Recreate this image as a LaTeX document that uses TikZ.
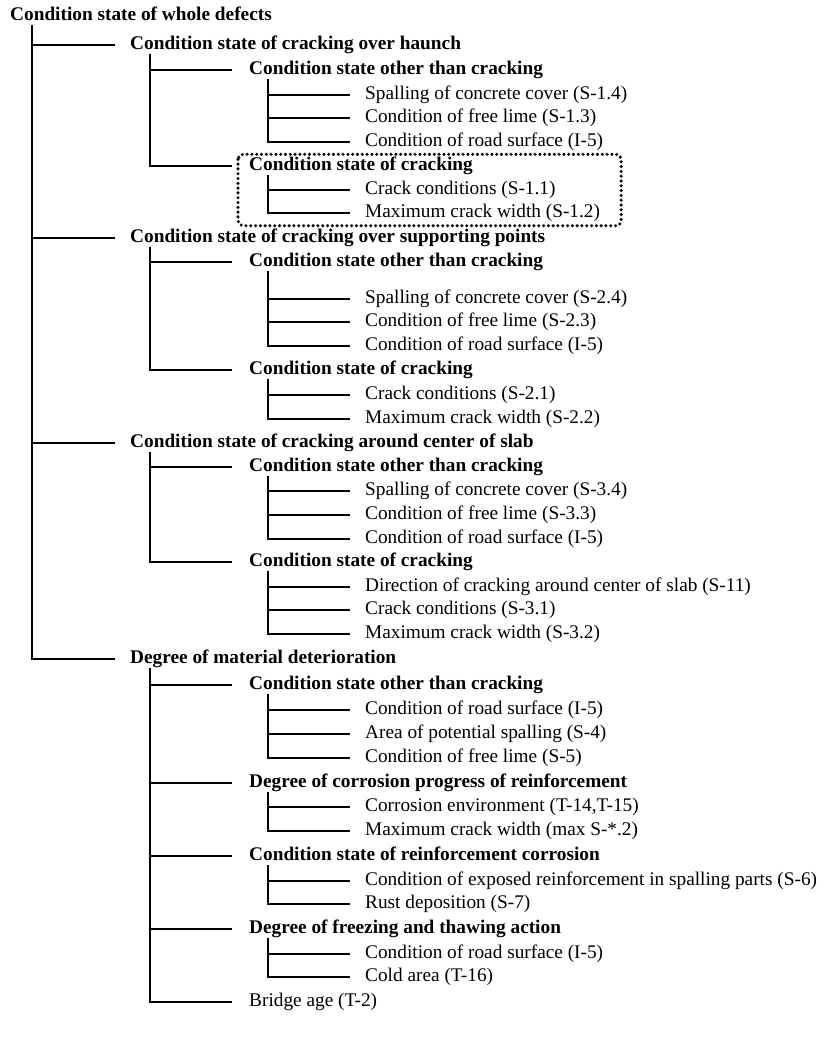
\documentclass[tikz,border=0pt]{standalone}
\usepackage{fontspec}
\setmainfont{Liberation Serif}
\usetikzlibrary{calc}
\tikzstyle{itm} = [anchor=west, inner sep=0pt, text height=13pt, text depth=4pt, font=\fontsize{19.3}{22}\selectfont]
\tikzstyle{grp} = [itm, font=\fontsize{19.3}{22}\selectfont\bfseries]
\tikzstyle{tree} = [line width=1.2pt]
\tikzstyle{focus} = [line width=3.4pt, line cap=round, dash pattern=on 0pt off 4.8pt, rounded corners=5pt]

\begin{document}
\begin{tikzpicture}[x=1pt, y=-1pt]
        \useasboundingbox (0,0) rectangle (831,1058);

        \node (W) [grp] at (10,16) {Condition state of whole defects};

        \node (H) [grp] at (130,45) {Condition state of cracking over haunch};
        \node (H1) [grp] at (249,70) {Condition state other than cracking};
        \node (H11) [itm] at (365,95) {Spalling of concrete cover (S-1.4)};
        \node (H12) [itm] at (365,118) {Condition of free lime (S-1.3)};
        \node (H13) [itm] at (365,142) {Condition of road surface (I-5)};
        \node (H2) [grp] at (249,166) {Condition state of cracking};
        \node (H21) [itm] at (365,190) {Crack conditions (S-1.1)};
        \node (H22) [itm] at (365,213) {Maximum crack width (S-1.2)};

        \node (P) [grp] at (130,238) {Condition state of cracking over supporting points};
        \node (P1) [grp] at (249,262) {Condition state other than cracking};
        \node (P11) [itm] at (365,299) {Spalling of concrete cover (S-2.4)};
        \node (P12) [itm] at (365,322) {Condition of free lime (S-2.3)};
        \node (P13) [itm] at (365,346) {Condition of road surface (I-5)};
        \node (P2) [grp] at (249,370) {Condition state of cracking};
        \node (P21) [itm] at (365,395) {Crack conditions (S-2.1)};
        \node (P22) [itm] at (365,419) {Maximum crack width (S-2.2)};

        \node (C) [grp] at (130,443) {Condition state of cracking around center of slab};
        \node (C1) [grp] at (249,467) {Condition state other than cracking};
        \node (C11) [itm] at (365,491) {Spalling of concrete cover (S-3.4)};
        \node (C12) [itm] at (365,515) {Condition of free lime (S-3.3)};
        \node (C13) [itm] at (365,539) {Condition of road surface (I-5)};
        \node (C2) [grp] at (249,562) {Condition state of cracking};
        \node (C21) [itm] at (365,587) {Direction of cracking around center of slab (S-11)};
        \node (C22) [itm] at (365,610) {Crack conditions (S-3.1)};
        \node (C23) [itm] at (365,634) {Maximum crack width (S-3.2)};

        \node (D) [grp] at (130,659) {Degree of material deterioration};
        \node (D1) [grp] at (249,685) {Condition state other than cracking};
        \node (D11) [itm] at (365,710) {Condition of road surface (I-5)};
        \node (D12) [itm] at (365,734) {Area of potential spalling (S-4)};
        \node (D13) [itm] at (365,758) {Condition of free lime (S-5)};
        \node (D2) [grp] at (249,783) {Degree of corrosion progress of reinforcement};
        \node (D21) [itm] at (365,807) {Corrosion environment (T-14,T-15)};
        \node (D22) [itm] at (365,831) {Maximum crack width (max S-*.2)};
        \node (D3) [grp] at (249,856) {Condition state of reinforcement corrosion};
        \node (D31) [itm] at (365,881) {Condition of exposed reinforcement in spalling parts (S-6)};
        \node (D32) [itm] at (365,904) {Rust deposition (S-7)};
        \node (D4) [grp] at (249,929) {Degree of freezing and thawing action};
        \node (D41) [itm] at (365,954) {Condition of road surface (I-5)};
        \node (D42) [itm] at (365,977) {Cold area (T-16)};
        \node (D5) [itm] at (249,1002) {Bridge age (T-2)};

        % top level
        \draw[tree] (32,0 |- W.south) -- (32,0 |- D.west) -- ([xshift=-15pt]D.west)
            (32,0 |- H.west) -- ([xshift=-15pt]H.west)
            (32,0 |- P.west) -- ([xshift=-15pt]P.west)
            (32,0 |- C.west) -- ([xshift=-15pt]C.west);

        % haunch
        \draw[tree] (150,0 |- H.south) -- (150,0 |- H2.west) -- ([xshift=-17pt]H2.west)
            (150,0 |- H1.west) -- ([xshift=-17pt]H1.west);
        \draw[tree] (268,0 |- H1.south) -- (268,0 |- H13.west) -- ([xshift=-15pt]H13.west)
            (268,0 |- H11.west) -- ([xshift=-15pt]H11.west)
            (268,0 |- H12.west) -- ([xshift=-15pt]H12.west);
        \draw[tree] (268,0 |- H2.south) -- (268,0 |- H22.west) -- ([xshift=-15pt]H22.west)
            (268,0 |- H21.west) -- ([xshift=-15pt]H21.west);
        \draw[focus] ([xshift=-11pt,yshift=3pt]H2.north west) rectangle ([xshift=21pt,yshift=-4pt]H22.south east);

        % supporting points
        \draw[tree] (150,0 |- P.south) -- (150,0 |- P2.west) -- ([xshift=-17pt]P2.west)
            (150,0 |- P1.west) -- ([xshift=-17pt]P1.west);
        \draw[tree] (268,0 |- P1.south) -- (268,0 |- P13.west) -- ([xshift=-15pt]P13.west)
            (268,0 |- P11.west) -- ([xshift=-15pt]P11.west)
            (268,0 |- P12.west) -- ([xshift=-15pt]P12.west);
        \draw[tree] (268,0 |- P2.south) -- (268,0 |- P22.west) -- ([xshift=-15pt]P22.west)
            (268,0 |- P21.west) -- ([xshift=-15pt]P21.west);

        % center of slab
        \draw[tree] (150,0 |- C.south) -- (150,0 |- C2.west) -- ([xshift=-17pt]C2.west)
            (150,0 |- C1.west) -- ([xshift=-17pt]C1.west);
        \draw[tree] (268,0 |- C1.south) -- (268,0 |- C13.west) -- ([xshift=-15pt]C13.west)
            (268,0 |- C11.west) -- ([xshift=-15pt]C11.west)
            (268,0 |- C12.west) -- ([xshift=-15pt]C12.west);
        \draw[tree] (268,0 |- C2.south) -- (268,0 |- C23.west) -- ([xshift=-15pt]C23.west)
            (268,0 |- C21.west) -- ([xshift=-15pt]C21.west)
            (268,0 |- C22.west) -- ([xshift=-15pt]C22.west);

        % material deterioration
        \draw[tree] (150,0 |- D.south) -- (150,0 |- D5.west) -- ([xshift=-17pt]D5.west)
            (150,0 |- D1.west) -- ([xshift=-17pt]D1.west)
            (150,0 |- D2.west) -- ([xshift=-17pt]D2.west)
            (150,0 |- D3.west) -- ([xshift=-17pt]D3.west)
            (150,0 |- D4.west) -- ([xshift=-17pt]D4.west);
        \draw[tree] (268,0 |- D1.south) -- (268,0 |- D13.west) -- ([xshift=-15pt]D13.west)
            (268,0 |- D11.west) -- ([xshift=-15pt]D11.west)
            (268,0 |- D12.west) -- ([xshift=-15pt]D12.west);
        \draw[tree] (268,0 |- D2.south) -- (268,0 |- D22.west) -- ([xshift=-15pt]D22.west)
            (268,0 |- D21.west) -- ([xshift=-15pt]D21.west);
        \draw[tree] (268,0 |- D3.south) -- (268,0 |- D32.west) -- ([xshift=-15pt]D32.west)
            (268,0 |- D31.west) -- ([xshift=-15pt]D31.west);
        \draw[tree] (268,0 |- D4.south) -- (268,0 |- D42.west) -- ([xshift=-15pt]D42.west)
            (268,0 |- D41.west) -- ([xshift=-15pt]D41.west);

    \end{tikzpicture}
\end{document}
